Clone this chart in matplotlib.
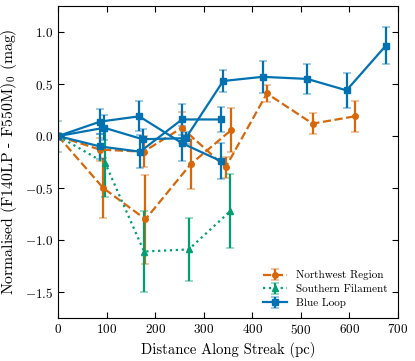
import numpy as np
import matplotlib
matplotlib.use('Agg')
import matplotlib.pyplot as plt

plt.rcParams['font.family'] = 'serif'
plt.rcParams['font.serif'] = ['cmr10', 'DejaVu Serif']
plt.rcParams['mathtext.fontset'] = 'cm'
plt.rcParams['axes.formatter.use_mathtext'] = True
plt.rcParams['axes.unicode_minus'] = True

# Northwest Region (two branches from the origin)
nw_x1 = [0, 86, 176, 255, 345, 430, 524, 611]
nw_y1 = [0.0, -0.13, -0.15, 0.08, -0.30, 0.41, 0.12, 0.19]
nw_e1 = [0.0, 0.11, 0.15, 0.15, 0.10, 0.08, 0.10, 0.15]
nw_x2 = [0, 93, 180, 273, 357]
nw_y2 = [0.0, -0.50, -0.80, -0.27, 0.06]
nw_e2 = [0.0, 0.29, 0.43, 0.24, 0.21]

# Southern Filament
sf_x = [0, 97, 177, 269, 355]
sf_y = [0.0, -0.26, -1.11, -1.09, -0.72]
sf_e = [0.15, 0.33, 0.39, 0.30, 0.36]

# Blue Loop (three branches from the origin)
bl_x1 = [0, 87, 167, 256, 335]
bl_y1 = [0.0, 0.14, 0.19, -0.07, -0.24]
bl_e1 = [0.0, 0.12, 0.145, 0.17, 0.17]
bl_x2 = [0, 95, 174, 263, 340, 421, 513, 594, 675]
bl_y2 = [0.0, 0.08, -0.03, -0.02, 0.53, 0.57, 0.55, 0.44, 0.87]
bl_e2 = [0.0, 0.12, 0.10, 0.06, 0.11, 0.155, 0.145, 0.17, 0.18]
bl_x3 = [0, 87, 169, 255, 335]
bl_y3 = [0.0, -0.10, -0.15, 0.16, 0.16]
bl_e3 = [0.0, 0.12, 0.16, 0.15, 0.12]

c_or = '#D8670A'
c_gr = '#009E73'
c_bl = '#0072B2'

fig = plt.figure(figsize=(4.15, 3.61), dpi=100)
ax = fig.add_axes([0.14, 0.119, 0.819, 0.864])

def draw(x, y, e, col, ls, mk, lab=None):
    l, caps, bars = ax.errorbar(x, y, yerr=e, color=col, ls=ls, marker=mk, ms=4,
                                lw=1.6, elinewidth=1.6, capsize=3, capthick=1.2,
                                label=lab)
    for c in caps:
        c.set_alpha(0.45)
    return l

draw(nw_x1, nw_y1, nw_e1, c_or, '--', 'o', 'Northwest Region')
draw(nw_x2, nw_y2, nw_e2, c_or, '--', 'o')
draw(sf_x, sf_y, sf_e, c_gr, ':', '^', 'Southern Filament')
draw(bl_x1, bl_y1, bl_e1, c_bl, '-', 's', 'Blue Loop')
draw(bl_x2, bl_y2, bl_e2, c_bl, '-', 's')
draw(bl_x3, bl_y3, bl_e3, c_bl, '-', 's')

ax.set_xlim(0, 700)
ax.set_ylim(-1.75, 1.25)
ax.set_xticks(np.arange(0, 701, 100))
ax.set_yticks([-1.5, -1.0, -0.5, 0.0, 0.5, 1.0])
ax.tick_params(direction='in', top=True, right=True, labelsize=9.5, length=4)
ax.set_xlabel('Distance Along Streak (pc)', fontsize=10.5)
ax.set_ylabel('Normalised (F140LP - F550M)$_0$ (mag)', fontsize=11.3)
ax.legend(loc='lower right', frameon=False, fontsize=8, handlelength=2.2,
          labelspacing=0.35)

fig.savefig('out.png', dpi=100)
